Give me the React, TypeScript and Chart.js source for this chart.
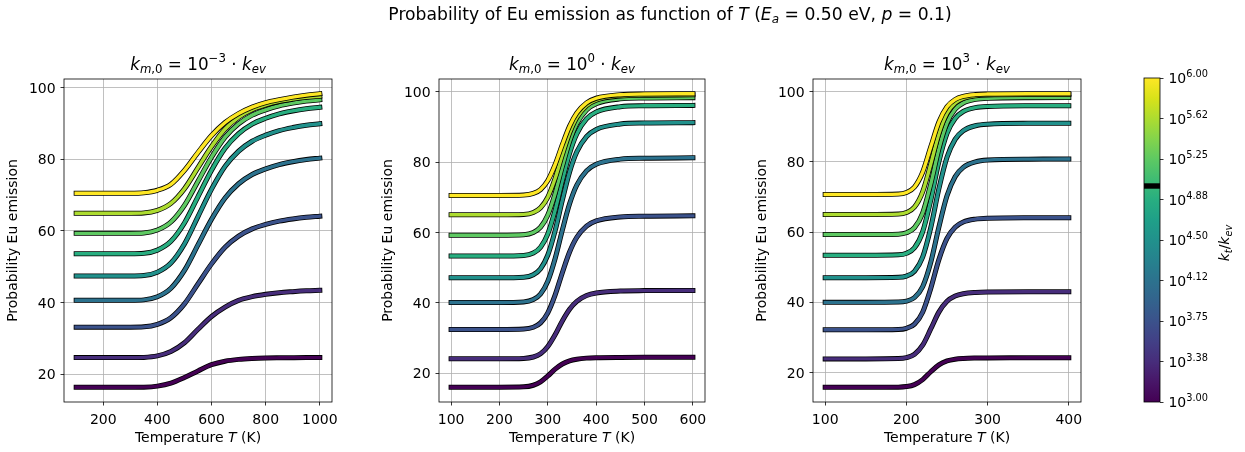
import React, { useEffect, useRef } from "react";
import { Chart, registerables } from "chart.js";

Chart.register(...registerables);

const FONT = '"DejaVu Sans", "Liberation Sans", sans-serif';
const W = 1245;
const H = 452;

// ---------------- data ----------------
// colour of each curve: log10(k_t/k_ev) = 3.00 ... 6.00
const VIRIDIS9 = ["#440154", "#472d7b", "#3b528b", "#2c728e", "#21918c", "#28ae80", "#5ec962", "#addc30", "#fde725"];

// left panel: k_m,0 = 1e-3 k_ev
const T_LEFT = [100, 200, 300, 350, 400, 450, 500, 550, 600, 650, 700, 750, 800, 850, 900, 950, 1000];
const L_300 = [16.3, 16.3, 16.3, 16.34, 16.63, 17.46, 19.04, 20.87, 22.61, 23.6, 24.1, 24.35, 24.48, 24.54, 24.58, 24.6, 24.6];
const L_338 = [24.6, 24.6, 24.6, 24.66, 25.07, 26.29, 28.74, 32.5, 36.07, 38.7, 40.58, 41.61, 42.27, 42.74, 43.02, 43.25, 43.4];
const L_375 = [33.1, 33.1, 33.1, 33.19, 33.88, 35.74, 39.61, 45.19, 50.77, 55.42, 58.52, 60.54, 61.78, 62.71, 63.33, 63.79, 64.1];
const L_412 = [40.6, 40.6, 40.6, 40.72, 41.59, 43.97, 48.94, 56.08, 63.23, 69.18, 73.15, 75.73, 77.32, 78.51, 79.31, 79.9, 80.3];
const L_450 = [47.4, 47.4, 47.4, 47.53, 48.46, 51.01, 56.33, 63.98, 71.63, 78.0, 82.25, 85.01, 86.71, 87.99, 88.84, 89.48, 89.9];
const L_488 = [53.6, 53.6, 53.6, 53.72, 54.62, 57.08, 62.19, 69.55, 76.91, 83.05, 87.14, 89.8, 91.43, 92.66, 93.48, 94.09, 94.5];
const L_525 = [59.3, 59.3, 59.3, 59.41, 60.23, 62.47, 67.13, 73.85, 80.56, 86.16, 89.89, 92.31, 93.8, 94.92, 95.67, 96.23, 96.6];
const L_562 = [64.9, 64.9, 64.9, 65.0, 65.72, 67.68, 71.77, 77.65, 83.54, 88.44, 91.71, 93.84, 95.15, 96.13, 96.78, 97.27, 97.6];
const L_600 = [70.5, 70.5, 70.5, 70.64, 71.33, 73.0, 76.89, 81.9, 86.62, 90.24, 92.74, 94.55, 95.8, 96.63, 97.33, 97.88, 98.3];

// middle panel: k_m,0 = 1e0 k_ev
const T_MID = [100, 200, 250, 270, 285, 300, 315, 330, 345, 360, 380, 400, 450, 500, 600];
const M_300 = [16.0, 16.0, 16.11, 16.56, 17.52, 19.2, 21.13, 22.61, 23.51, 23.97, 24.27, 24.39, 24.48, 24.5, 24.5];
const M_338 = [24.1, 24.1, 24.19, 24.59, 25.52, 27.57, 30.89, 34.85, 38.18, 40.42, 42.05, 42.79, 43.35, 43.46, 43.5];
const M_375 = [32.4, 32.4, 32.52, 33.04, 34.29, 37.15, 42.15, 48.55, 54.43, 58.63, 61.79, 63.28, 64.41, 64.62, 64.7];
const M_412 = [40.1, 40.1, 40.25, 40.91, 42.51, 46.14, 52.51, 60.65, 68.13, 73.47, 77.5, 79.39, 80.83, 81.1, 81.2];
const M_450 = [47.1, 47.1, 47.26, 47.97, 49.68, 53.58, 60.42, 69.15, 77.18, 82.91, 87.23, 89.26, 90.8, 91.09, 91.2];
const M_488 = [53.3, 53.3, 53.45, 54.14, 55.81, 59.59, 66.23, 74.7, 82.49, 88.05, 92.25, 94.22, 95.71, 95.99, 96.1];
const M_525 = [59.2, 59.2, 59.34, 59.97, 61.49, 64.95, 71.01, 78.75, 85.87, 90.95, 94.78, 96.58, 97.95, 98.2, 98.3];
const M_562 = [65.0, 65.0, 65.12, 65.67, 67.0, 70.01, 75.3, 82.05, 88.26, 92.69, 96.03, 97.6, 98.79, 99.01, 99.1];
const M_600 = [70.5, 70.5, 70.6, 71.07, 72.19, 74.75, 79.23, 84.95, 90.21, 93.97, 96.8, 98.13, 99.14, 99.33, 99.4];

// right panel: k_m,0 = 1e3 k_ev
const T_RIGHT = [100, 150, 190, 200, 210, 220, 230, 240, 250, 260, 270, 285, 300, 350, 400];
const R_300 = [15.8, 15.8, 15.85, 16.01, 16.57, 18.0, 20.23, 22.2, 23.3, 23.81, 24.02, 24.14, 24.18, 24.2, 24.2];
const R_338 = [23.9, 23.9, 23.98, 24.24, 25.2, 27.79, 32.42, 37.21, 40.29, 41.79, 42.45, 42.82, 42.94, 43.0, 43.0];
const R_375 = [32.2, 32.2, 32.29, 32.62, 33.8, 37.2, 43.97, 52.17, 58.2, 61.39, 62.86, 63.69, 63.95, 64.09, 64.1];
const R_412 = [40.0, 40.0, 40.08, 40.35, 41.38, 44.46, 51.38, 61.43, 70.36, 75.77, 78.43, 80.0, 80.51, 80.78, 80.8];
const R_450 = [47.0, 47.0, 47.11, 47.48, 48.85, 52.85, 61.26, 72.33, 81.3, 86.42, 88.87, 90.29, 90.74, 90.98, 91.0];
const R_488 = [53.4, 53.4, 53.52, 53.96, 55.54, 60.07, 69.12, 80.07, 88.12, 92.38, 94.34, 95.45, 95.8, 95.99, 96.0];
const R_525 = [59.3, 59.3, 59.41, 59.81, 61.26, 65.41, 73.69, 83.71, 91.09, 94.99, 96.78, 97.79, 98.12, 98.29, 98.3];
const R_562 = [65.0, 65.0, 65.13, 65.57, 67.14, 71.46, 79.4, 88.02, 93.83, 96.77, 98.09, 98.82, 99.07, 99.19, 99.2];
const R_600 = [70.7, 70.7, 70.83, 71.27, 72.85, 77.06, 84.27, 91.35, 95.7, 97.76, 98.66, 99.16, 99.31, 99.4, 99.4];

// ticks
const X_TICKS_LEFT = [200, 400, 600, 800, 1000];
const X_TICKS_MID = [100, 200, 300, 400, 500, 600];
const X_TICKS_RIGHT = [100, 200, 300, 400];
const Y_TICKS = [20, 40, 60, 80, 100];

// colour bar
const CB_MIN = 3;
const CB_MAX = 6;
const CB_MARK = 5.0;
const CB_TICKS = [3, 3.375, 3.75, 4.125, 4.5, 4.875, 5.25, 5.625, 6];
const CB_LABELS = ["3.00", "3.38", "3.75", "4.12", "4.50", "4.88", "5.25", "5.62", "6.00"];
const VIRIDIS_STOPS = ["#440154", "#481668", "#472d7b", "#424086", "#3b528b", "#33638d", "#2c728e", "#26828e", "#21918c", "#1fa088", "#28ae80", "#3fbc73", "#5ec962", "#84d44b", "#addc30", "#d8e219", "#fde725"];

// ---------------- rich text ----------------
type Seg = { t: string; it?: boolean; sub?: boolean; sup?: boolean };

function segFont(s: Seg, size: number) {
  const sz = s.sub || s.sup ? size * 0.7 : size;
  return `${s.it ? "italic " : ""}${sz}px ${FONT}`;
}

function drawRich(ctx: CanvasRenderingContext2D, segs: Seg[], x: number, y: number, size: number, align: "left" | "center" | "right" = "left") {
  let w = 0;
  for (const s of segs) {
    ctx.font = segFont(s, size);
    w += ctx.measureText(s.t).width;
  }
  let cx = align === "center" ? x - w / 2 : align === "right" ? x - w : x;
  ctx.textAlign = "left";
  ctx.textBaseline = "alphabetic";
  for (const s of segs) {
    ctx.font = segFont(s, size);
    const dy = s.sub ? size * 0.22 : s.sup ? -size * 0.42 : 0;
    ctx.fillText(s.t, cx, y + dy);
    cx += ctx.measureText(s.t).width;
  }
}

const SUPTITLE: Seg[] = [
  { t: "Probability of Eu emission as function of " },
  { t: "T", it: true },
  { t: " (" },
  { t: "E", it: true },
  { t: "a", it: true, sub: true },
  { t: " = 0.50 eV, " },
  { t: "p", it: true },
  { t: " = 0.1)" },
];
const XLABEL: Seg[] = [{ t: "Temperature " }, { t: "T", it: true }, { t: " (K)" }];
const YLABEL: Seg[] = [{ t: "Probability Eu emission" }];
const CBLABEL: Seg[] = [{ t: "k", it: true }, { t: "t", it: true, sub: true }, { t: "/" }, { t: "k", it: true }, { t: "ev", it: true, sub: true }];

function titleSegs(exp: string): Seg[] {
  return [
    { t: "k", it: true },
    { t: "m", it: true, sub: true },
    { t: ",0", sub: true },
    { t: " = 10" },
    { t: exp, sup: true },
    { t: " · " },
    { t: "k", it: true },
    { t: "ev", it: true, sub: true },
  ];
}

// ---------------- panels ----------------
type Panel = {
  t: number[];
  series: number[][];
  xMin: number;
  xMax: number;
  yMin: number;
  yMax: number;
  xTicks: number[];
  exp: string;
  padLeft: number;
  left: number;
  right: number;
  suptitle: boolean;
};

const PANELS: Panel[] = [
  { t: T_LEFT, series: [L_300, L_338, L_375, L_412, L_450, L_488, L_525, L_562, L_600], xMin: 55, xMax: 1045, yMin: 12.2, yMax: 102.4, xTicks: X_TICKS_LEFT, exp: "−3", padLeft: 0, left: 64, right: 332, suptitle: false },
  { t: T_MID, series: [M_300, M_338, M_375, M_412, M_450, M_488, M_525, M_562, M_600], xMin: 75, xMax: 625, yMin: 11.8, yMax: 103.6, xTicks: X_TICKS_MID, exp: "0", padLeft: 370, left: 439, right: 705, suptitle: true },
  { t: T_RIGHT, series: [R_300, R_338, R_375, R_412, R_450, R_488, R_525, R_562, R_600], xMin: 85, xMax: 415, yMin: 11.62, yMax: 103.6, xTicks: X_TICKS_RIGHT, exp: "3", padLeft: 740, left: 813, right: 1081, suptitle: false },
];

const TOP = 79;
const BOTTOM = 402;

function SubPlot({ p }: { p: Panel }) {
  const ref = useRef<HTMLCanvasElement>(null);
  useEffect(() => {
    const canvas = ref.current;
    if (!canvas) return;
    const datasets: any[] = [];
    p.series.forEach((s, i) => {
      const pts = p.t.map((t, j) => ({ x: t, y: s[j] }));
      datasets.push({ data: pts, borderColor: "#000000", borderWidth: 5, order: 100 - 2 * i });
      datasets.push({ data: pts, borderColor: VIRIDIS9[i], borderWidth: 3.4, order: 99 - 2 * i });
    });
    const deco = {
      id: "deco",
      afterDraw(chart: any) {
        const ctx: CanvasRenderingContext2D = chart.ctx;
        const a = chart.chartArea;
        const xs = chart.scales.x;
        const ys = chart.scales.y;
        ctx.save();
        ctx.strokeStyle = "#000";
        ctx.lineWidth = 0.8;
        ctx.strokeRect(a.left, a.top, a.right - a.left, a.bottom - a.top);
        ctx.fillStyle = "#000";
        ctx.font = `14px ${FONT}`;
        ctx.textBaseline = "alphabetic";
        ctx.textAlign = "center";
        for (const v of p.xTicks) ctx.fillText(String(v), xs.getPixelForValue(v), a.bottom + 22);
        ctx.textAlign = "right";
        for (const v of Y_TICKS) ctx.fillText(String(v), a.left - 8.4, ys.getPixelForValue(v) + 5.1);
        const cx = (a.left + a.right) / 2;
        drawRich(ctx, titleSegs(p.exp), cx, 69.5, 16.8, "center");
        drawRich(ctx, XLABEL, cx, 442, 14, "center");
        ctx.save();
        ctx.translate(a.left - 46.8, (a.top + a.bottom) / 2);
        ctx.rotate(-Math.PI / 2);
        drawRich(ctx, YLABEL, 0, 0, 14, "center");
        ctx.restore();
        if (p.suptitle) drawRich(ctx, SUPTITLE, 670, 19.5, 17.2, "center");
        ctx.restore();
      },
    };
    const chart = new Chart(canvas, {
      type: "line",
      data: { datasets },
      options: {
        animation: false,
        responsive: false,
        maintainAspectRatio: false,
        events: [],
        layout: { padding: { left: p.padLeft, right: W - p.right, top: TOP, bottom: 0 } },
        plugins: { legend: { display: false }, tooltip: { enabled: false }, title: { display: false } },
        elements: {
          point: { radius: 0 },
          line: { cubicInterpolationMode: "monotone", borderCapStyle: "square", borderJoinStyle: "round", fill: false },
        },
        scales: {
          x: {
            type: "linear",
            min: p.xMin,
            max: p.xMax,
            afterBuildTicks: (s: any) => {
              s.ticks = p.xTicks.map((v) => ({ value: v }));
            },
            afterFit: (s: any) => {
              s.height = H - BOTTOM;
            },
            grid: { color: "#b0b0b0", lineWidth: 0.8, tickColor: "#000", tickLength: 3.5, tickWidth: 0.8 },
            border: { display: false },
            ticks: { callback: () => "", autoSkip: false, maxRotation: 0 },
          },
          y: {
            type: "linear",
            min: p.yMin,
            max: p.yMax,
            afterBuildTicks: (s: any) => {
              s.ticks = Y_TICKS.map((v) => ({ value: v }));
            },
            afterFit: (s: any) => {
              s.width = p.left - p.padLeft;
            },
            grid: { color: "#b0b0b0", lineWidth: 0.8, tickColor: "#000", tickLength: 3.5, tickWidth: 0.8 },
            border: { display: false },
            ticks: { callback: () => "", autoSkip: false },
          },
        },
      } as any,
      plugins: [deco],
    });
    return () => chart.destroy();
  }, []);
  return <canvas ref={ref} width={W} height={H} style={{ position: "absolute", left: 0, top: 0, width: W, height: H }} />;
}

function ColorBar() {
  const ref = useRef<HTMLCanvasElement>(null);
  useEffect(() => {
    const canvas = ref.current;
    if (!canvas) return;
    const gradient = (c: any) => {
      const chart = c.chart;
      const a = chart.chartArea;
      if (!a) return "#21918c";
      const g = chart.ctx.createLinearGradient(0, a.bottom, 0, a.top);
      VIRIDIS_STOPS.forEach((col, i) => g.addColorStop(i / (VIRIDIS_STOPS.length - 1), col));
      return g;
    };
    const deco = {
      id: "cbdeco",
      afterDraw(chart: any) {
        const ctx: CanvasRenderingContext2D = chart.ctx;
        const a = chart.chartArea;
        const ys = chart.scales.y;
        ctx.save();
        ctx.strokeStyle = "#000";
        ctx.lineWidth = 0.8;
        ctx.strokeRect(a.left, a.top, a.right - a.left, a.bottom - a.top);
        ctx.fillStyle = "#000";
        CB_TICKS.forEach((v, i) => {
          const y = ys.getPixelForValue(v);
          drawRich(ctx, [{ t: "10" }, { t: CB_LABELS[i], sup: true }], a.right + 8.4, y + 5.3, 14, "left");
        });
        ctx.save();
        ctx.translate(1229, (a.top + a.bottom) / 2 + 3);
        ctx.rotate(-Math.PI / 2);
        drawRich(ctx, CBLABEL, 0, 0, 14, "center");
        ctx.restore();
        ctx.restore();
      },
    };
    const chart = new Chart(canvas, {
      type: "bar",
      data: {
        labels: ["cb"],
        datasets: [
          { data: [[CB_MARK - 0.022, CB_MARK + 0.022]], backgroundColor: "#000000", order: 1, barPercentage: 1, categoryPercentage: 1, grouped: false, borderWidth: 0 },
          { data: [[CB_MIN, CB_MAX]], backgroundColor: gradient, order: 2, barPercentage: 1, categoryPercentage: 1, grouped: false, borderWidth: 0 },
        ],
      },
      options: {
        animation: false,
        responsive: false,
        maintainAspectRatio: false,
        events: [],
        layout: { padding: { left: 1144, right: 0, top: 78, bottom: H - BOTTOM } },
        plugins: { legend: { display: false }, tooltip: { enabled: false } },
        scales: {
          x: { type: "category", display: false },
          y: {
            position: "right",
            min: CB_MIN,
            max: CB_MAX,
            afterBuildTicks: (s: any) => {
              s.ticks = CB_TICKS.map((v) => ({ value: v }));
            },
            afterFit: (s: any) => {
              s.width = W - 1160;
            },
            grid: { drawOnChartArea: false, tickColor: "#000", tickLength: 3.5, tickWidth: 0.8 },
            border: { display: false },
            ticks: { callback: () => "", autoSkip: false },
          },
        },
      } as any,
      plugins: [deco],
    });
    return () => chart.destroy();
  }, []);
  return <canvas ref={ref} width={W} height={H} style={{ position: "absolute", left: 0, top: 0, width: W, height: H }} />;
}

export default function App() {
  return (
    <div style={{ position: "absolute", left: 0, top: 0, width: W, height: H, background: "#fff", overflow: "hidden" }}>
      {PANELS.map((p, i) => (
        <SubPlot key={i} p={p} />
      ))}
      <ColorBar />
    </div>
  );
}
